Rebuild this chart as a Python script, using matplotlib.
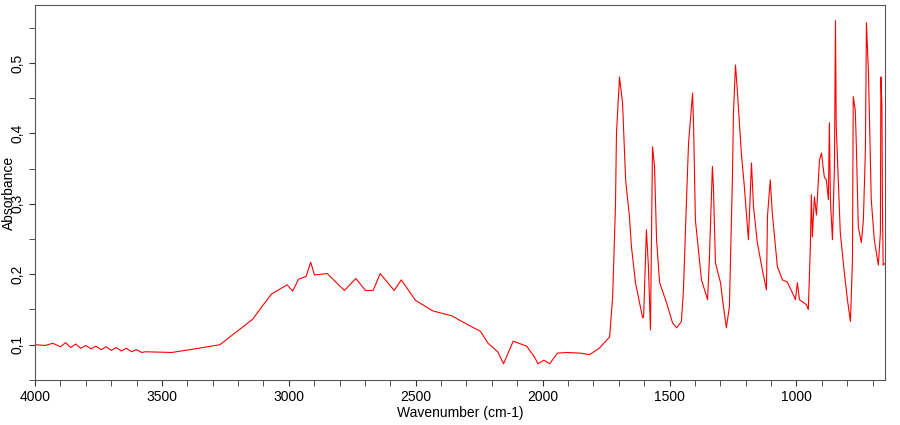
import numpy as np
import matplotlib
matplotlib.use("Agg")
import matplotlib.pyplot as plt
from matplotlib.ticker import MultipleLocator, FuncFormatter

plt.rcParams['font.family'] = ['Liberation Sans', 'DejaVu Sans']

# wavenumber (cm-1) and absorbance
wavenumber = [4000, 3960, 3930, 3900, 3880, 3860, 3840, 3820, 3800, 3780, 3760, 3740, 3720,
              3700, 3680, 3660, 3640, 3620, 3600, 3580, 3566, 3461, 3355, 3272, 3204, 3143,
              3098, 3068, 3030, 3007, 2985, 2962, 2932, 2914, 2899, 2849, 2781, 2736, 2698,
              2668, 2640, 2585, 2557, 2501, 2433, 2358, 2298, 2245, 2215, 2177, 2154, 2116,
              2063, 2033, 2018, 1995, 1972, 1942, 1904, 1850, 1815, 1777, 1736, 1724, 1713,
              1709, 1697, 1685, 1673, 1658, 1650, 1634, 1606, 1602, 1591, 1583, 1575, 1567,
              1559, 1551, 1539, 1512, 1488, 1472, 1453, 1445, 1433, 1425, 1409, 1405, 1398,
              1390, 1374, 1350, 1343, 1331, 1327, 1319, 1299, 1291, 1276, 1264, 1252, 1248,
              1240, 1232, 1217, 1205, 1197, 1189, 1177, 1169, 1154, 1134, 1118, 1114, 1103,
              1095, 1075, 1055, 1036, 1016, 1004, 996, 988, 961, 953, 945, 941, 937, 929,
              921, 909, 901, 890, 882, 874, 870, 866, 858, 850, 846, 843, 827, 811, 799, 787,
              779, 776, 768, 764, 756, 744, 736, 728, 724, 716, 705, 693, 677, 669, 667, 663,
              661, 658, 652]
absorbance = [0.100, 0.099, 0.102, 0.097, 0.103, 0.096, 0.101, 0.095, 0.099, 0.094, 0.098,
              0.093, 0.097, 0.092, 0.096, 0.091, 0.095, 0.090, 0.093, 0.089, 0.090, 0.089,
              0.095, 0.100, 0.119, 0.136, 0.158, 0.172, 0.180, 0.185, 0.176, 0.193, 0.197,
              0.217, 0.199, 0.201, 0.177, 0.194, 0.177, 0.177, 0.201, 0.177, 0.192, 0.163,
              0.148, 0.141, 0.129, 0.119, 0.102, 0.090, 0.073, 0.105, 0.098, 0.083, 0.073,
              0.078, 0.073, 0.088, 0.089, 0.088, 0.086, 0.095, 0.111, 0.168, 0.296, 0.400,
              0.480, 0.443, 0.334, 0.282, 0.239, 0.188, 0.138, 0.140, 0.263, 0.210, 0.121,
              0.381, 0.353, 0.249, 0.188, 0.160, 0.131, 0.124, 0.133, 0.178, 0.306, 0.386,
              0.457, 0.410, 0.277, 0.249, 0.192, 0.164, 0.221, 0.353, 0.324, 0.216, 0.188,
              0.164, 0.124, 0.154, 0.338, 0.429, 0.497, 0.457, 0.372, 0.324, 0.287, 0.249,
              0.358, 0.296, 0.245, 0.206, 0.178, 0.282, 0.334, 0.287, 0.211, 0.192, 0.189,
              0.174, 0.164, 0.188, 0.164, 0.157, 0.150, 0.239, 0.313, 0.253, 0.310, 0.284,
              0.362, 0.372, 0.338, 0.334, 0.306, 0.415, 0.306, 0.249, 0.353, 0.560, 0.410,
              0.259, 0.202, 0.164, 0.133, 0.221, 0.452, 0.433, 0.386, 0.267, 0.245, 0.277,
              0.377, 0.557, 0.486, 0.306, 0.249, 0.213, 0.259, 0.480, 0.440, 0.300, 0.213,
              0.215]

fig = plt.figure(figsize=(9, 4.25), dpi=100)
ax = fig.add_axes([0.039, 0.106, 0.944, 0.882])
ax.plot(wavenumber, absorbance, color='red', lw=0.8)

ax.set_xlim(4000, 652)
ax.set_ylim(0.05, 0.582)
ax.xaxis.set_major_locator(MultipleLocator(500))
ax.xaxis.set_minor_locator(MultipleLocator(100))
ax.yaxis.set_major_locator(MultipleLocator(0.1))
ax.yaxis.set_minor_locator(MultipleLocator(0.05))
ax.yaxis.set_major_formatter(FuncFormatter(lambda v, p: f"{v:.1f}".replace('.', ',')))
ax.tick_params(which='both', direction='out', length=4, color='#333333', labelsize=10)
plt.setp(ax.get_yticklabels(), rotation=90, va='center')
for s in ax.spines.values():
    s.set_color('#555555')
ax.set_xlabel('Wavenumber (cm-1)', fontsize=10, labelpad=1)
ax.set_ylabel('Absorbance', fontsize=10)
ax.yaxis.set_label_coords(-0.022, 0.5)

fig.savefig('out.png')
